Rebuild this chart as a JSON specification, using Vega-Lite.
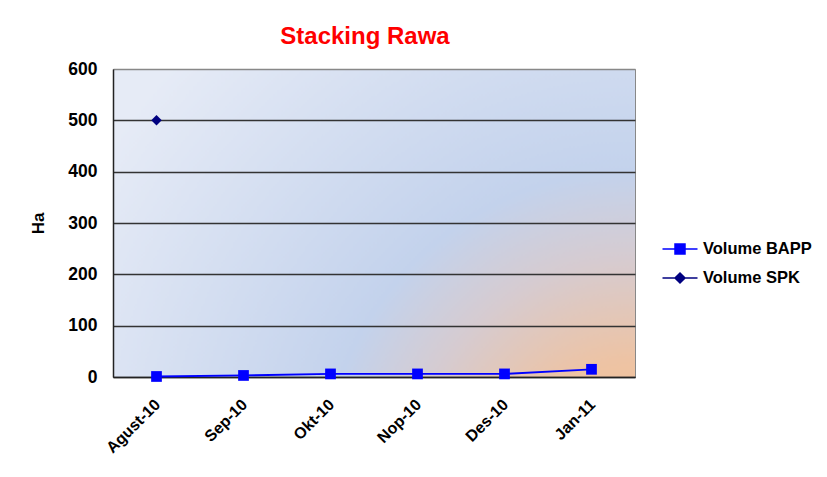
{
  "$schema": "https://vega.github.io/schema/vega-lite/v6.json",
  "width": 522,
  "height": 308,
  "autosize": "none",
  "padding": {"left": 113, "top": 69, "right": 192, "bottom": 100},
  "background": "white",
  "title": {"text": "Stacking Rawa", "color": "#FF0000", "font": "Liberation Sans", "fontSize": 24, "fontWeight": "bold", "anchor": "middle", "offset": 11, "dx": -9},
  "data": {
    "values": [
      {"month": "Agust-10", "series": "Volume BAPP", "value": 1},
      {"month": "Sep-10", "series": "Volume BAPP", "value": 3},
      {"month": "Okt-10", "series": "Volume BAPP", "value": 6},
      {"month": "Nop-10", "series": "Volume BAPP", "value": 6},
      {"month": "Des-10", "series": "Volume BAPP", "value": 6},
      {"month": "Jan-11", "series": "Volume BAPP", "value": 15},
      {"month": "Agust-10", "series": "Volume SPK", "value": 500}
    ]
  },
  "encoding": {
    "x": {
      "field": "month", "type": "nominal",
      "sort": ["Agust-10", "Sep-10", "Okt-10", "Nop-10", "Des-10", "Jan-11"],
      "scale": {"type": "point", "padding": 0.5},
      "axis": {"title": null, "labelAngle": -45, "labelFont": "Liberation Sans", "labelFontSize": 16, "labelFontWeight": "bold", "labelColor": "black", "ticks": false, "grid": false, "domainColor": "#222222", "domainWidth": 1.5, "labelPadding": 19, "labelOffset": -5}
    },
    "y": {
      "field": "value", "type": "quantitative",
      "scale": {"domain": [0, 600], "nice": false},
      "axis": {"title": "Ha", "values": [0, 100, 200, 300, 400, 500, 600], "grid": true,
        "gridColor": {"condition": {"test": "datum.value == 600", "value": "#888888"}, "value": "#333333"},
        "gridWidth": 1.3, "ticks": false, "domainColor": "#222222", "domainWidth": 1.5,
        "labelFont": "Liberation Sans", "labelFontSize": 17.5, "labelFontWeight": "bold", "labelColor": "black", "labelPadding": 16,
        "titleFont": "Liberation Sans", "titleFontSize": 17, "titleFontWeight": "bold", "titleColor": "black", "titlePadding": 20}
    },
    "color": {
      "field": "series", "type": "nominal",
      "scale": {"domain": ["Volume BAPP", "Volume SPK"], "range": ["#0000FF", "#000080"]},
      "legend": {
        "title": null, "orient": "none", "legendX": 556, "legendY": 169, "padding": 0,
        "symbolSize": 400, "labelOffset": 12, "rowPadding": 9,
        "labelFont": "Liberation Sans", "labelFontSize": 16.5, "labelFontWeight": "bold", "labelColor": "black",
        "encode": {"symbols": {"update": {
          "shape": {"signal": "datum.value === 'Volume BAPP' ? 'M-1.75,0H1.75M-0.5,-0.5H0.5V0.5H-0.5Z' : 'M-1.75,0H1.75M0,-0.5L0.5,0L0,0.5L-0.5,0Z'"},
          "size": {"value": 400},
          "fill": {"signal": "datum.value === 'Volume BAPP' ? '#0000FF' : '#000080'"},
          "stroke": {"signal": "datum.value === 'Volume BAPP' ? '#0000FF' : '#000080'"},
          "strokeWidth": {"value": 1.5},
          "opacity": {"value": 1}
        }}}
      }
    }
  },
  "layer": [
    {"mark": {"type": "line", "strokeWidth": 1.8}},
    {"transform": [{"filter": "datum.series === 'Volume BAPP'"}],
     "mark": {"type": "point", "filled": true, "opacity": 1, "shape": "square", "size": 115}},
    {"transform": [{"filter": "datum.series === 'Volume SPK'"}],
     "mark": {"type": "point", "filled": true, "opacity": 1, "shape": "diamond", "size": 110}}
  ],
  "config": {
    "view": {
      "stroke": "#888888", "strokeWidth": 1,
      "fill": {"gradient": "radial", "x1": 1, "y1": 1, "x2": 1, "y2": 1, "r1": 0, "r2": 1.2,
        "stops": [
          {"offset": 0, "color": "#F7BD86"},
          {"offset": 0.2, "color": "#EDC3A4"},
          {"offset": 0.36, "color": "#D6CBD0"},
          {"offset": 0.5, "color": "#C3D2EC"},
          {"offset": 1, "color": "#E6EBF6"}
        ]}
    }
  }
}
